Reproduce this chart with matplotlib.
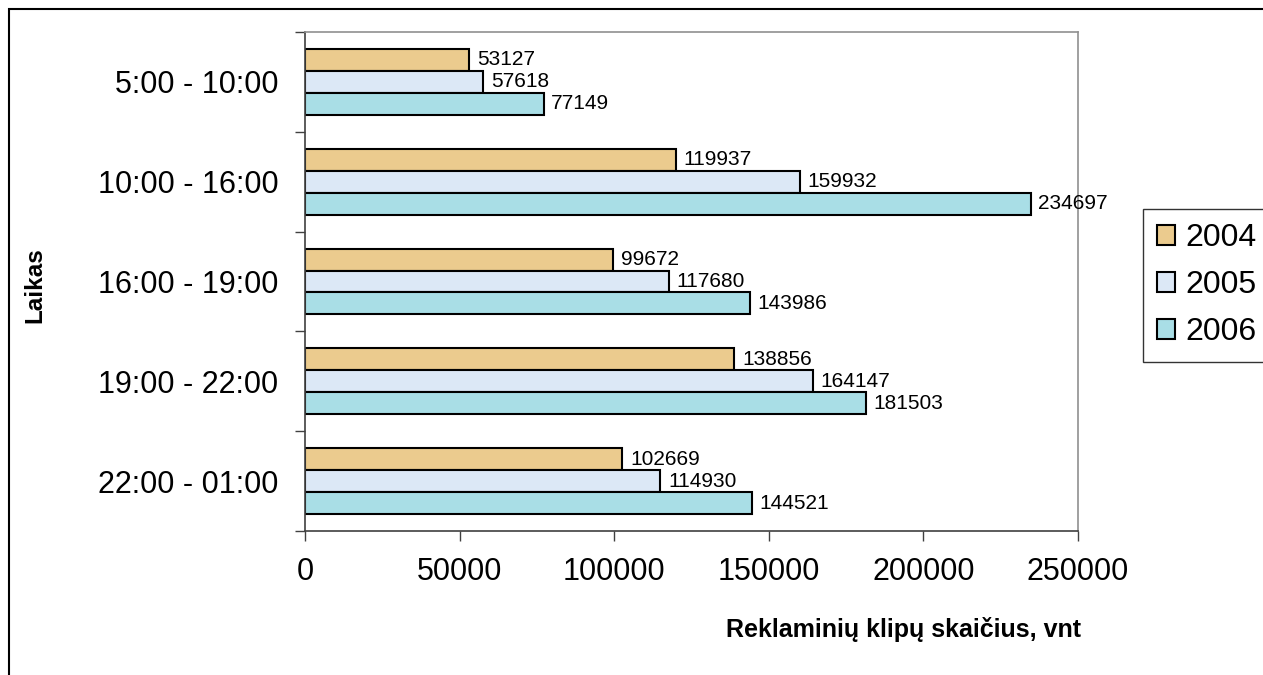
import matplotlib.pyplot as plt
import numpy as np
from matplotlib.patches import Rectangle

plt.rcParams['font.family'] = ['Liberation Sans', 'DejaVu Sans']

categories = ["5:00 - 10:00", "10:00 - 16:00", "16:00 - 19:00", "19:00 - 22:00", "22:00 - 01:00"]
years = ["2004", "2005", "2006"]
v2004 = [53127, 119937, 99672, 138856, 102669]
v2005 = [57618, 159932, 117680, 164147, 114930]
v2006 = [77149, 234697, 143986, 181503, 144521]
xticks = [0, 50000, 100000, 150000, 200000, 250000]
colors = ["#EBCB8E", "#DCE8F6", "#A9DEE6"]

W, H = 1263, 675
fig = plt.figure(figsize=(W/100, H/100), dpi=100)
ax = fig.add_axes([305/W, 1 - 531/H, (1078-305)/W, (531-32)/H])

# outer frame
fig.patches.append(Rectangle((9/W, -0.05), 1.2, 1 - 9/H + 0.05, transform=fig.transFigure,
                             fill=False, edgecolor='black', linewidth=1.5, zorder=0))

y = np.arange(len(categories))
h = 0.22
series = [v2004, v2005, v2006]
for i, (vals, c, lab) in enumerate(zip(series, colors, years)):
    pos = y + (i - 1) * h
    ax.barh(pos, vals, height=h, color=c, edgecolor='black', linewidth=1.5, label=lab)
    for p, v in zip(pos, vals):
        ax.annotate(str(v), (v, p), xytext=(5.5, 0), textcoords='offset points',
                    va='center', ha='left', fontsize=15)

ax.set_xlim(0, 250000)
ax.set_ylim(len(categories) - 0.5, -0.5)
ax.set_xticks(xticks)
ax.set_xticklabels([str(t) for t in xticks], fontsize=22)
ax.tick_params(axis='x', length=7, width=1, pad=12, color='#404040')
ax.set_yticks(np.arange(-0.5, len(categories), 1.0))
ax.set_yticklabels([])
ax.set_yticks(y, minor=True)
ax.set_yticklabels(categories, minor=True, fontsize=22)
ax.tick_params(axis='y', which='major', length=7, width=1, color='#404040')
ax.tick_params(axis='y', which='minor', length=0, pad=19)

for s in ['top', 'right']:
    ax.spines[s].set_color('#909090')
    ax.spines[s].set_linewidth(1.2)
for s in ['left', 'bottom']:
    ax.spines[s].set_color('#404040')
    ax.spines[s].set_linewidth(1.2)

fig.text(903/W, 1 - 629/H, "Reklaminių klipų skaičius, vnt", ha='center', va='center',
         fontsize=18, fontweight='bold')
fig.text(35/W, 1 - 285/H, "Laikas", ha='center', va='center', rotation=90,
         fontsize=17.5, fontweight='bold')

leg = ax.legend(loc='upper left', bbox_to_anchor=(1143/W, 1 - 209/H), bbox_transform=fig.transFigure,
                fontsize=23, frameon=True, fancybox=False, edgecolor='black',
                handlelength=0.56, handleheight=0.56, handletextpad=0.32, labelspacing=0.53,
                borderpad=0.45, borderaxespad=0)
leg.get_frame().set_linewidth(1.0)

fig.savefig("out.png", dpi=100)
